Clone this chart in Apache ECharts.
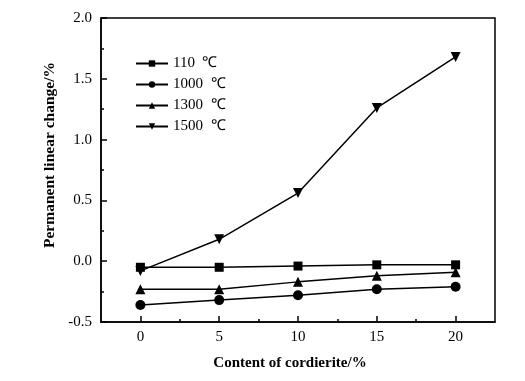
<!DOCTYPE html>
<html><head><meta charset="utf-8">
<script src="https://cdn.jsdelivr.net/npm/echarts@6/dist/echarts.min.js"></script>
<style>html,body{margin:0;padding:0;background:#fff}#c{width:525px;height:381px}</style>
</head><body><div id="c"></div>
<script>
const xValues = [0, 5, 10, 15, 20];
const seriesNames = ['110  ℃', '1000  ℃', '1300  ℃', '1500  ℃'];
const s110 = [-0.05, -0.05, -0.04, -0.03, -0.03];
const s1000 = [-0.36, -0.32, -0.28, -0.23, -0.21];
const s1300 = [-0.23, -0.23, -0.17, -0.12, -0.09];
const s1500 = [-0.08, 0.18, 0.56, 1.26, 1.68];
const xTicks = [0, 5, 10, 15, 20];
const xMinorTicks = [2.5, 7.5, 12.5, 17.5];
const xName = 'Content of cordierite/%';
const yName = 'Permanent linear change/%';

const font = 'Liberation Serif';
function pairs(v){ return xValues.map((x,i)=>[x,v[i]]); }
function mk(name, data, symbol, size, rotate){
  return {name, type:'line', data:pairs(data), symbol, symbolSize:size, symbolRotate:rotate||0,
    lineStyle:{color:'#000', width:1.5}, itemStyle:{color:'#000'}, z:3, animation:false};
}
const chart = echarts.init(document.getElementById('c'));
chart.setOption({
  animation:false,
  grid:{left:101, right:30, top:18, bottom:59, show:true, borderColor:'#000', borderWidth:1.5},
  legend:{orient:'vertical', left:135, top:56, padding:0, itemWidth:32, itemHeight:8, itemGap:6,
    textStyle:{fontFamily:font, fontSize:15, color:'#000'}, data:seriesNames},
  graphic:[
    {type:'text', x:290, y:363, style:{text:xName, font:'bold 15px "Liberation Serif"', fill:'#000', textAlign:'center', textVerticalAlign:'middle'}},
    {type:'text', x:50, y:155, rotation:Math.PI/2, style:{text:yName, font:'bold 15.5px "Liberation Serif"', fill:'#000', textAlign:'center', textVerticalAlign:'middle'}}
  ],
  xAxis:[{type:'value', min:-2.5, max:22.5, interval:2.5,
    axisLine:{onZero:false, lineStyle:{color:'#000', width:1.5}},
    axisTick:{inside:true, length:6, customValues:xTicks, lineStyle:{color:'#000', width:1.5}},
    axisLabel:{customValues:xTicks, margin:8, fontFamily:font, fontSize:15, color:'#000'},
    splitLine:{show:false}},
   {type:'value', min:-2.5, max:22.5, interval:2.5, position:'bottom',
    axisLine:{show:false, onZero:false},
    axisTick:{inside:true, length:3, customValues:xMinorTicks, lineStyle:{color:'#000', width:1.5}},
    axisLabel:{show:false}, splitLine:{show:false}}],
  yAxis:{type:'value', min:-0.5, max:2.0, interval:0.5,
    axisLine:{show:true, onZero:false, lineStyle:{color:'#000', width:1.5}},
    axisTick:{inside:true, length:6, lineStyle:{color:'#000', width:1.5}},
    minorTick:{show:true, splitNumber:2, length:3, lineStyle:{color:'#000', width:1.5}},
    axisLabel:{margin:9, fontFamily:font, fontSize:15, color:'#000', formatter:v=>v.toFixed(1)},
    splitLine:{show:false}},
  series:[
    mk(seriesNames[0], s110, 'rect', 9),
    mk(seriesNames[1], s1000, 'circle', 10),
    mk(seriesNames[2], s1300, 'triangle', 10),
    mk(seriesNames[3], s1500, 'triangle', 10, 180)
  ]
});
</script></body></html>
